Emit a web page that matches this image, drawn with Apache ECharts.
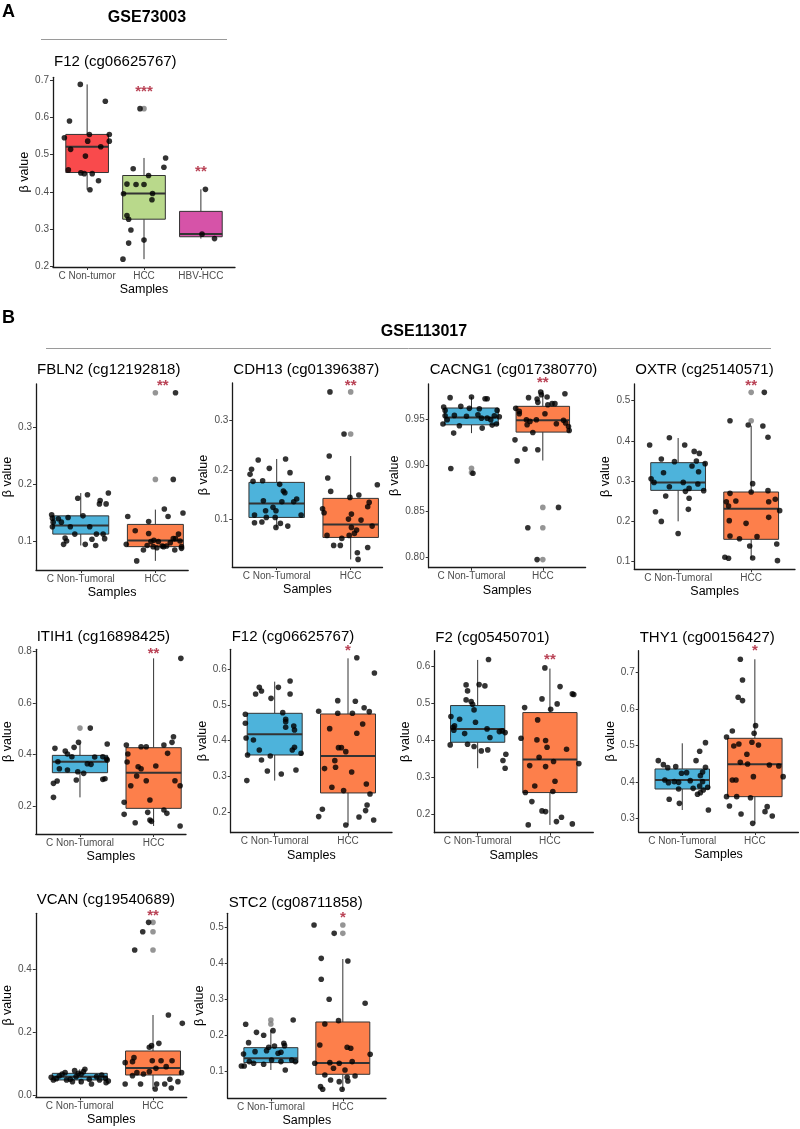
<!DOCTYPE html>
<html><head><meta charset="utf-8">
<script src="https://cdn.jsdelivr.net/npm/echarts@6/dist/echarts.min.js"></script>
<style>html,body{margin:0;padding:0;background:#fff}#c{width:800px;height:1129px}</style>
</head><body><div id="c"></div><script>
// ---------------- DATA ----------------
const CATS_B = ['C Non-Tumoral', 'HCC'];

// Panel A : GSE73003
const A_title = 'F12 (cg06625767)';
const A_cats = ['C Non-tumor', 'HCC', 'HBV-HCC'];
const A_ticks = ['0.2','0.3','0.4','0.5','0.6','0.7'];
const A_ctrl = [0.688,0.643,0.590,0.545,0.554,0.554,0.536,0.536,0.521,0.514,0.496,0.459,0.451,0.449,0.449,0.430,0.406];
const A_ctrl_jit = [-0.12,0.32,-0.31,-0.40,0.04,0.39,0.01,0.39,0.24,-0.29,-0.03,-0.33,-0.11,-0.05,0.09,0.20,0.05];
const A_hcc = [0.623,0.491,0.466,0.462,0.444,0.421,0.420,0.420,0.395,0.396,0.379,0.337,0.327,0.298,0.271,0.263,0.220];
const A_hcc_jit = [-0.07,0.38,0.35,-0.19,0.08,-0.30,-0.14,0.00,-0.36,0.15,0.14,-0.30,-0.27,-0.23,0.00,-0.27,-0.37];
const A_hbv = [0.407,0.287,0.275];
const A_hbv_jit = [0.08,0.02,0.24];
const A_box = [[0.406,0.452,0.521,0.554,0.688],[0.220,0.327,0.396,0.444,0.491],[0.275,0.280,0.2875,0.348,0.407]];
const A_out = [[],[0.623],[]];
const A_sig = [['***',2,0.675],['**',3,0.463]];

// FBLN2
const FBLN2_title = 'FBLN2 (cg12192818)';
const FBLN2_ticks = ['0.1','0.2','0.3'];
const FBLN2_ctrl = [0.146,0.140,0.139,0.133,0.125,0.133,0.141,0.125,0.175,0.181,0.165,0.171,0.184,0.165,0.144,0.125,0.112,0.105,0.100,0.094,0.094,0.103,0.112,0.112,0.104,0.092];
const FBLN2_ctrl_jit = [-0.39,-0.38,-0.30,-0.37,-0.38,-0.26,-0.17,-0.14,-0.04,0.09,0.25,0.26,0.37,0.34,0.03,0.12,-0.08,-0.21,-0.19,-0.23,0.06,0.15,0.21,0.30,0.32,0.20];
const FBLN2_hcc = [0.360,0.208,0.149,0.156,0.143,0.143,0.134,0.118,0.113,0.094,0.065,0.084,0.099,0.101,0.099,0.090,0.090,0.088,0.091,0.091,0.097,0.104,0.104,0.112,0.100,0.090,0.084,0.087,0.092];
const FBLN2_hcc_jit = [0.27,0.24,0.37,0.12,0.17,-0.37,-0.09,-0.27,-0.09,-0.39,-0.25,-0.16,-0.06,-0.02,0.04,0.11,-0.03,0.02,0.09,0.15,0.20,0.24,0.27,0.31,0.33,0.35,0.26,0.35,-0.11];
const FBLN2_box = [[0.092,0.112,0.127,0.144,0.184],[0.065,0.090,0.1006,0.129,0.155]];
const FBLN2_out = [[],[0.360,0.208]];
const FBLN2_sig = [['**',2.1,0.378]];

// CDH13
const CDH13_title = 'CDH13 (cg01396387)';
const CDH13_ticks = ['0.1','0.2','0.3'];
const CDH13_ctrl = [0.2205,0.2017,0.1916,0.2037,0.2226,0.195,0.1775,0.1788,0.1714,0.158,0.1545,0.1384,0.1364,0.1418,0.125,0.1364,0.1182,0.1182,0.1094,0.1047,0.1047,0.1094,0.094,0.0953,0.0926,0.0845,0.0872];
const CDH13_ctrl_jit = [-0.25,-0.34,-0.36,-0.10,0.12,0.18,-0.32,-0.19,0.04,0.09,0.11,-0.18,0.23,0.27,-0.05,0.07,-0.15,-0.01,-0.30,-0.14,-0.02,0.33,-0.30,-0.20,0.05,-0.01,0.15];
const CDH13_hcc = [0.358,0.273,0.2286,0.1842,0.1572,0.1707,0.1222,0.1141,0.0684,0.0482,0.0482,0.0623,0.1114,0.1451,0.1498,0.135,0.1263,0.0872,0.0441,0.0333,0.0199,0.0724,0.0684,0.1013,0.0993,0.0791,0.0845];
const CDH13_hcc_jit = [-0.28,-0.09,-0.29,-0.31,-0.27,0.36,-0.38,-0.36,-0.32,-0.23,-0.14,-0.12,0.01,-0.01,0.11,0.25,0.23,0.29,0.23,0.09,0.10,0.05,-0.02,-0.03,0.14,0.08,0.01];
const CDH13_box = [[0.0845,0.1047,0.133,0.1754,0.2226],[0.0199,0.0643,0.0906,0.1431,0.2286]];
const CDH13_out = [[],[0.358,0.273]];
const CDH13_sig = [['**',2,0.3768]];

// CACNG1
const CACNG1_title = 'CACNG1 (cg017380770)';
const CACNG1_ticks = ['0.80','0.85','0.90','0.95'];
const CACNG1_ctrl = [0.9732,0.9739,0.9721,0.9721,0.9638,0.9630,0.9594,0.9616,0.9612,0.9594,0.9536,0.9493,0.9540,0.9530,0.9547,0.9510,0.9510,0.9493,0.9536,0.9525,0.9446,0.9428,0.9402,0.9435,0.9446,0.9348,0.8964,0.8913];
const CACNG1_ctrl_jit = [-0.30,0.00,0.19,0.22,-0.15,-0.39,-0.37,-0.03,0.11,0.36,-0.37,-0.34,-0.24,-0.07,0.09,0.14,0.22,0.27,0.32,0.39,-0.40,-0.17,0.15,0.29,0.35,-0.25,-0.29,0.02];
const CACNG1_hcc = [0.9793,0.9764,0.9732,0.9775,0.9739,0.9717,0.9681,0.9667,0.9667,0.9656,0.9616,0.9583,0.9558,0.9558,0.9493,0.9475,0.9493,0.9438,0.9449,0.9486,0.9457,0.9420,0.9377,0.9355,0.9275,0.9174,0.9167,0.9047,0.8543,0.8322,0.7978];
const CACNG1_hcc_jit = [-0.03,-0.02,-0.20,0.31,0.06,-0.08,-0.07,0.13,0.17,0.07,-0.38,-0.33,-0.33,0.03,-0.23,-0.18,-0.09,-0.22,0.19,0.29,0.32,0.36,0.37,-0.14,-0.39,-0.25,-0.07,-0.36,0.22,-0.21,-0.08];
const CACNG1_box = [[0.9348,0.9438,0.9518,0.962,0.9739],[0.9051,0.9359,0.9486,0.9638,0.9808]];
const CACNG1_out = [[0.8967,0.892],[0.8543,0.8322,0.7978]];
const CACNG1_sig = [['**',2,0.992]];

// OXTR
const OXTR_title = 'OXTR (cg25140571)';
const OXTR_ticks = ['0.1','0.2','0.3','0.4','0.5'];
const OXTR_ctrl = [0.408,0.390,0.390,0.374,0.369,0.355,0.3485,0.350,0.3435,0.3377,0.3236,0.321,0.3062,0.297,0.297,0.293,0.2863,0.282,0.2764,0.2747,0.2574,0.2631,0.230,0.2242,0.200,0.170];
const OXTR_ctrl_jit = [-0.12,-0.39,0.09,0.22,0.29,-0.23,-0.05,0.25,0.37,0.19,0.28,-0.20,-0.37,-0.33,0.07,0.27,-0.12,0.15,0.35,0.10,0.15,-0.17,0.14,-0.31,-0.23,0.00];
const OXTR_hcc = [0.5207,0.4503,0.4395,0.437,0.409,0.2938,0.2731,0.2698,0.2764,0.249,0.2507,0.2383,0.249,0.2549,0.2267,0.2101,0.2019,0.1952,0.1638,0.1571,0.1621,0.1389,0.1439,0.1108,0.1083,0.1091,0.1025];
const OXTR_hcc_jit = [0.18,-0.29,-0.04,0.16,0.23,0.02,0.00,-0.29,0.23,-0.34,-0.21,-0.31,0.24,0.33,0.39,0.24,-0.30,-0.07,-0.29,-0.16,0.08,-0.02,0.35,-0.36,-0.31,0.02,0.36];
const OXTR_box = [[0.2002,0.2772,0.297,0.346,0.4072],[0.1083,0.1555,0.2317,0.2731,0.4379]];
const OXTR_out = [[],[0.5207,0.4503]];
const OXTR_sig = [['**',2,0.5447]];

// ITIH1
const ITIH1_title = 'ITIH1 (cg16898425)';
const ITIH1_ticks = ['0.2','0.4','0.6','0.8'];
const ITIH1_ctrl = [0.503,0.4477,0.4413,0.4284,0.4245,0.4142,0.4026,0.3923,0.391,0.3923,0.3845,0.3729,0.3652,0.3626,0.3794,0.3458,0.3406,0.3342,0.3277,0.3045,0.307,0.3019,0.298,0.289,0.2348];
const ITIH1_ctrl_jit = [0.14,-0.02,0.37,-0.08,-0.34,-0.20,-0.17,-0.11,0.20,0.31,0.36,-0.30,0.10,0.15,0.37,-0.28,-0.17,-0.03,0.05,0.31,0.34,-0.05,-0.31,-0.36,-0.36];
const ITIH1_hcc = [0.773,0.4374,0.4026,0.431,0.431,0.4374,0.4477,0.4697,0.4052,0.3716,0.3535,0.3458,0.3561,0.3174,0.2994,0.28,0.2994,0.28,0.2245,0.2155,0.1768,0.169,0.1368,0.1471,0.142,0.1858,0.1729,0.1239];
const ITIH1_hcc_jit = [0.37,-0.37,-0.35,-0.17,-0.10,0.14,0.25,0.27,0.19,-0.36,-0.21,-0.17,0.03,-0.23,-0.10,-0.31,0.29,0.36,-0.05,-0.40,-0.08,-0.40,-0.25,-0.05,-0.03,0.14,0.18,0.36];
const ITIH1_box = [[0.2348,0.3303,0.3729,0.3974,0.4439],[0.124,0.1923,0.3303,0.4271,0.773]];
const ITIH1_out = [[0.503],[]];
const ITIH1_sig = [['**',2,0.8026]];

// F12 (GSE113017)
const F12_title = 'F12 (cg06625767)';
const F12_ticks = ['0.2','0.3','0.4','0.5','0.6'];
const F12_ctrl = [0.5665,0.5488,0.5488,0.5386,0.5302,0.5302,0.5181,0.4735,0.4781,0.4595,0.453,0.4409,0.4484,0.4372,0.4298,0.4074,0.4019,0.3814,0.374,0.374,0.3647,0.36,0.3572,0.346,0.3181,0.3153,0.307,0.2884];
const F12_ctrl_jit = [0.21,-0.21,0.05,-0.18,-0.26,0.21,-0.05,-0.40,0.11,0.15,0.15,0.26,-0.40,0.15,0.27,-0.39,-0.29,0.27,0.24,-0.21,0.36,-0.37,-0.06,-0.18,0.29,-0.10,0.09,-0.38];
const F12_hcc = [0.6316,0.5888,0.4819,0.5116,0.5098,0.492,0.4809,0.4763,0.4763,0.4335,0.4465,0.4205,0.3805,0.3805,0.3693,0.3442,0.3219,0.3256,0.3126,0.2791,0.2512,0.2698,0.2605,0.2084,0.1879,0.2205,0.2047,0.187,0.1786,0.1647];
const F12_hcc_jit = [0.12,0.36,-0.40,-0.14,0.10,0.22,0.29,-0.14,0.06,-0.25,0.20,0.12,-0.13,-0.09,-0.03,-0.18,-0.32,-0.17,0.05,0.25,0.30,-0.22,-0.06,-0.35,-0.40,0.26,0.24,0.15,0.35,-0.03];
const F12_box = [[0.2884,0.36,0.4177,0.4763,0.5647],[0.1637,0.254,0.3572,0.4744,0.6298]];
const F12_out = [[],[]];
const F12_sig = [['*',2,0.6577]];

// F2
const F2_title = 'F2 (cg05450701)';
const F2_ticks = ['0.2','0.3','0.4','0.5','0.6'];
const F2_ctrl = [0.619,0.5503,0.5512,0.5476,0.5341,0.5097,0.5052,0.498,0.4826,0.4646,0.4573,0.4393,0.4357,0.4492,0.4275,0.4185,0.4312,0.4077,0.4239,0.4257,0.4212,0.3878,0.3896,0.3833,0.3716,0.3743,0.3625,0.3454,0.3246];
const F2_ctrl_jit = [0.15,-0.16,0.02,0.10,-0.14,-0.16,-0.09,-0.07,-0.05,-0.37,-0.25,-0.32,-0.34,-0.03,-0.33,-0.18,0.13,0.17,0.30,0.34,0.38,-0.38,-0.14,-0.05,0.05,0.14,0.39,0.35,0.38];
const F2_hcc = [0.5964,0.5458,0.526,0.5242,0.4989,0.5124,0.4844,0.4889,0.4555,0.4059,0.4014,0.3996,0.3815,0.3761,0.3544,0.3427,0.3318,0.3291,0.3372,0.2894,0.2767,0.2587,0.2614,0.2343,0.209,0.2072,0.1919,0.1801,0.1711,0.1738];
const F2_hcc_jit = [-0.07,0.14,0.31,0.33,0.10,-0.11,0.01,-0.35,-0.17,-0.40,-0.18,-0.06,-0.04,0.23,-0.15,0.05,-0.28,-0.06,0.40,0.07,-0.21,-0.34,0.04,-0.25,-0.11,-0.06,0.16,0.09,-0.30,0.31];
const F2_box = [[0.3246,0.395,0.4312,0.4944,0.618],[0.1711,0.2587,0.3481,0.4754,0.5946]];
const F2_out = [[],[]];
const F2_sig = [['**',2,0.627]];

// THY1
const THY1_title = 'THY1 (cg00156427)';
const THY1_ticks = ['0.3','0.4','0.5','0.6','0.7'];
const THY1_ctrl = [0.5082,0.4589,0.4845,0.4589,0.448,0.4425,0.4397,0.4406,0.4279,0.4242,0.426,0.4178,0.4059,0.3986,0.4014,0.3995,0.4041,0.4014,0.3895,0.3831,0.3813,0.3858,0.3785,0.3712,0.3667,0.353,0.342,0.3237];
const THY1_ctrl_jit = [0.32,-0.33,0.24,0.19,-0.26,-0.09,-0.20,0.32,0.28,-0.01,0.06,0.25,-0.24,-0.19,-0.11,-0.05,0.11,0.28,0.24,0.15,-0.05,0.35,0.29,0.25,0.21,-0.18,-0.04,0.36];
const THY1_hcc = [0.7365,0.6799,0.6324,0.6233,0.5548,0.5338,0.5402,0.5237,0.5046,0.4991,0.5091,0.5018,0.4763,0.4543,0.4498,0.447,0.4443,0.4151,0.4151,0.4059,0.4059,0.3575,0.3603,0.3603,0.3347,0.3329,0.3192,0.3073,0.3128,0.2872];
const THY1_hcc_jit = [-0.20,-0.17,-0.23,-0.17,0.01,-0.01,-0.31,-0.39,-0.22,-0.29,-0.04,0.05,-0.11,-0.20,-0.10,0.20,0.33,-0.02,0.39,-0.31,-0.26,-0.06,-0.39,-0.25,-0.35,0.17,0.14,0.24,-0.19,-0.03];
const THY1_box = [[0.3237,0.3813,0.4059,0.4361,0.5064],[0.2872,0.3603,0.4489,0.5201,0.7365]];
const THY1_out = [[],[]];
const THY1_sig = [['*',2,0.769]];

// VCAN
const VCAN_title = 'VCAN (cg19540689)';
const VCAN_ticks = ['0.0','0.2','0.4'];
const VCAN_ctrl = [0.0571,0.0487,0.0529,0.0677,0.072,0.0508,0.0434,0.0593,0.0698,0.0677,0.0751,0.0825,0.0783,0.0508,0.036,0.0593,0.0646,0.054,0.0455,0.0402,0.0487,0.0434,0.0614,0.0487];
const VCAN_ctrl_jit = [-0.39,-0.36,-0.32,-0.24,-0.20,-0.13,-0.10,-0.05,-0.02,0.02,0.05,0.07,-0.07,0.13,0.16,0.23,0.30,0.35,0.39,0.36,-0.18,0.02,-0.28,0.27];
const VCAN_hcc = [0.5492,0.5196,0.4614,0.255,0.2286,0.165,0.1577,0.1524,0.1037,0.1196,0.1069,0.11,0.11,0.11,0.091,0.072,0.0677,0.0751,0.0857,0.0624,0.036,0.036,0.036,0.0508,0.072,0.0434,0.036,0.0233,0.0201];
const VCAN_hcc_jit = [-0.06,-0.14,-0.25,0.21,0.40,0.08,-0.02,-0.05,-0.38,-0.26,-0.28,-0.01,0.11,0.26,0.18,-0.22,-0.13,-0.05,0.04,-0.28,-0.17,0.05,-0.38,0.23,0.39,0.34,0.16,0.25,0.03];
const VCAN_box = [[0.036,0.0487,0.0593,0.0698,0.0825],[0.0201,0.0646,0.0868,0.1407,0.255]];
const VCAN_out = [[],[0.5492,0.5196,0.4614]];
const VCAN_sig = [['**',2,0.58]];

// STC2
const STC2_title = 'STC2 (cg08711858)';
const STC2_ticks = ['0.1','0.2','0.3','0.4','0.5'];
const STC2_ctrl = [0.2306,0.2426,0.2083,0.2,0.213,0.1796,0.1778,0.1667,0.1704,0.1574,0.1546,0.1713,0.1528,0.15,0.1481,0.1269,0.1222,0.1194,0.1315,0.1269,0.1315,0.1269,0.1148,0.1148,0.1037];
const STC2_ctrl_jit = [-0.35,0.31,-0.20,-0.10,0.03,-0.31,0.18,-0.03,0.05,-0.06,-0.22,0.19,0.14,0.10,-0.38,-0.30,-0.24,-0.10,0.01,0.14,0.29,0.34,-0.41,-0.37,0.20];
const STC2_hcc = [0.5065,0.4833,0.4139,0.4065,0.3556,0.3,0.2889,0.2315,0.2407,0.1731,0.1667,0.1639,0.1472,0.1241,0.1222,0.1269,0.1222,0.1083,0.1037,0.087,0.0898,0.0833,0.0759,0.05,0.0574,0.0713,0.0731,0.05];
const STC2_hcc_jit = [-0.40,-0.12,-0.30,0.07,-0.30,-0.19,0.31,-0.25,-0.06,-0.32,0.06,0.11,0.38,-0.18,-0.05,0.13,-0.39,-0.13,0.03,0.17,-0.25,0.06,-0.17,-0.28,-0.31,-0.05,0.07,-0.01];
const STC2_box = [[0.1037,0.1241,0.1361,0.1657,0.2148],[0.0481,0.0917,0.1231,0.237,0.412]];
const STC2_out = [[0.2426,0.2315],[0.5065,0.4833]];
const STC2_sig = [['*',2,0.534]];

// ---------------- LAYOUT / STYLE ----------------
const FONT = '"Liberation Sans", Arial, Helvetica, sans-serif';
const COL_A = ['#F94A4C', '#B9D98B', '#D653A8'];
const COL_B = ['#4DB3DB', '#FD7F4B'];
const PT = 5.6;

const panels = [
  {title:A_title, cats:A_cats, ticks:A_ticks, groups:[A_ctrl,A_hcc,A_hbv], jits:[A_ctrl_jit,A_hcc_jit,A_hbv_jit], box:A_box, out:A_out, sig:A_sig, colors:COL_A,
   L:{left:53, right:235, top:77.3, bottom:267, ymin:0.199, ymax:0.707, xmax:3.6, titleY:61.7}},
  {title:FBLN2_title, cats:CATS_B, ticks:FBLN2_ticks, groups:[FBLN2_ctrl,FBLN2_hcc], jits:[FBLN2_ctrl_jit,FBLN2_hcc_jit], box:FBLN2_box, out:FBLN2_out, sig:FBLN2_sig, colors:COL_B,
   L:{left:36, right:188.2, top:384, bottom:570, ymin:0.049, ymax:0.3754, xmax:2.44, titleY:370}},
  {title:CDH13_title, cats:CATS_B, ticks:CDH13_ticks, groups:[CDH13_ctrl,CDH13_hcc], jits:[CDH13_ctrl_jit,CDH13_hcc_jit], box:CDH13_box, out:CDH13_out, sig:CDH13_sig, colors:COL_B,
   L:{left:232.3, right:382.5, top:383, bottom:567, ymin:0.0046, ymax:0.376, xmax:2.43, titleY:369.5}},
  {title:CACNG1_title, cats:CATS_B, ticks:CACNG1_ticks, groups:[CACNG1_ctrl,CACNG1_hcc], jits:[CACNG1_ctrl_jit,CACNG1_hcc_jit], box:CACNG1_box, out:CACNG1_out, sig:CACNG1_sig, colors:COL_B,
   L:{left:428.7, right:585.6, top:384, bottom:567.7, ymin:0.789, ymax:0.988, xmax:2.6, titleY:370}},
  {title:OXTR_title, cats:CATS_B, ticks:OXTR_ticks, groups:[OXTR_ctrl,OXTR_hcc], jits:[OXTR_ctrl_jit,OXTR_hcc_jit], box:OXTR_box, out:OXTR_out, sig:OXTR_sig, colors:COL_B,
   L:{left:634.3, right:795, top:384, bottom:569.3, ymin:0.081, ymax:0.5415, xmax:2.6, titleY:370}},
  {title:ITIH1_title, cats:CATS_B, ticks:ITIH1_ticks, groups:[ITIH1_ctrl,ITIH1_hcc], jits:[ITIH1_ctrl_jit,ITIH1_hcc_jit], box:ITIH1_box, out:ITIH1_out, sig:ITIH1_sig, colors:COL_B,
   L:{left:35.7, right:186, top:649.3, bottom:834, ymin:0.093, ymax:0.808, xmax:2.44, titleY:637.3}},
  {title:F12_title, cats:CATS_B, ticks:F12_ticks, groups:[F12_ctrl,F12_hcc], jits:[F12_ctrl_jit,F12_hcc_jit], box:F12_box, out:F12_out, sig:F12_sig, colors:COL_B,
   L:{left:230.7, right:392, top:649.3, bottom:832.7, ymin:0.143, ymax:0.655, xmax:2.6, titleY:637.3}},
  {title:F2_title, cats:CATS_B, ticks:F2_ticks, groups:[F2_ctrl,F2_hcc], jits:[F2_ctrl_jit,F2_hcc_jit], box:F2_box, out:F2_out, sig:F2_sig, colors:COL_B,
   L:{left:434.3, right:593.3, top:650.7, bottom:832.7, ymin:0.150, ymax:0.643, xmax:2.6, titleY:638.3}},
  {title:THY1_title, cats:CATS_B, ticks:THY1_ticks, groups:[THY1_ctrl,THY1_hcc], jits:[THY1_ctrl_jit,THY1_hcc_jit], box:THY1_box, out:THY1_out, sig:THY1_sig, colors:COL_B,
   L:{left:638.7, right:798.4, top:650.7, bottom:832, ymin:0.2635, ymax:0.760, xmax:2.6, titleY:638.3}},
  {title:VCAN_title, cats:CATS_B, ticks:VCAN_ticks, groups:[VCAN_ctrl,VCAN_hcc], jits:[VCAN_ctrl_jit,VCAN_hcc_jit], box:VCAN_box, out:VCAN_out, sig:VCAN_sig, colors:COL_B,
   L:{left:35.7, right:186.7, top:913.3, bottom:1097.3, ymin:-0.0063, ymax:0.578, xmax:2.46, titleY:900}},
  {title:STC2_title, cats:CATS_B, ticks:STC2_ticks, groups:[STC2_ctrl,STC2_hcc], jits:[STC2_ctrl_jit,STC2_hcc_jit], box:STC2_box, out:STC2_out, sig:STC2_sig, colors:COL_B,
   L:{left:227.7, right:386, top:913.3, bottom:1098.3, ymin:0.025, ymax:0.539, xmax:2.6, titleY:902.7}}
];

const option = {
  animation: false,
  backgroundColor: '#ffffff',
  textStyle: {fontFamily: FONT},
  grid: [], xAxis: [], yAxis: [], series: [],
  graphic: [
    {type:'text', x:2, y:3, style:{text:'A', font:'bold 18px ' + FONT, fill:'#000'}},
    {type:'text', x:147, y:18, style:{text:'GSE73003', font:'bold 16px ' + FONT, fill:'#000', align:'center', verticalAlign:'middle'}},
    {type:'line', shape:{x1:41, y1:39.5, x2:227, y2:39.5}, style:{stroke:'#9a9a9a', lineWidth:1}},
    {type:'text', x:2, y:309, style:{text:'B', font:'bold 18px ' + FONT, fill:'#000'}},
    {type:'text', x:424, y:332, style:{text:'GSE113017', font:'bold 16px ' + FONT, fill:'#000', align:'center', verticalAlign:'middle'}},
    {type:'line', shape:{x1:46, y1:348.5, x2:771, y2:348.5}, style:{stroke:'#9a9a9a', lineWidth:1}}
  ]
};

const AXIS_LINE = {show:true, onZero:false, lineStyle:{color:'#1a1a1a', width:1.3}};
const AXIS_TICK_STYLE = {color:'#333', width:1};

panels.forEach((p, i) => {
  const L = p.L;
  option.grid.push({left:L.left, top:L.top, width:L.right - L.left, height:L.bottom - L.top});
  const catVals = p.cats.map((c, k) => k + 1);
  option.xAxis.push({
    type:'value', gridIndex:i, min:0.4, max:L.xmax, splitLine:{show:false},
    axisLine:AXIS_LINE,
    axisTick:{show:true, customValues:catVals, length:3, lineStyle:AXIS_TICK_STYLE},
    axisLabel:{customValues:catVals, formatter:(v) => p.cats[Math.round(v) - 1] || '', color:'#4d4d4d', fontSize:10, fontFamily:FONT, margin:4},
    name:'Samples', nameLocation:'middle', nameGap:16, nameTextStyle:{fontSize:12.5, color:'#000', fontFamily:FONT}
  });
  const tv = p.ticks.map(Number);
  option.yAxis.push({
    type:'value', gridIndex:i, min:L.ymin, max:L.ymax, splitLine:{show:false},
    axisLine:AXIS_LINE,
    axisTick:{show:true, customValues:tv, length:3, lineStyle:AXIS_TICK_STYLE},
    axisLabel:{customValues:tv, formatter:(v) => { const k = tv.findIndex(t => Math.abs(t - v) < 1e-9); return k >= 0 ? p.ticks[k] : ''; }, color:'#4d4d4d', fontSize:10, fontFamily:FONT, margin:4},
    name:'\u03B2 value', nameLocation:'middle', nameGap:21, nameTextStyle:{fontSize:12.5, color:'#000', fontFamily:FONT}
  });
  // boxes
  option.series.push({
    type:'custom', xAxisIndex:i, yAxisIndex:i, silent:true, z:2,
    data:p.box.map((b, k) => [k + 1, b[0], b[1], b[2], b[3], b[4], k]),
    encode:{x:0, y:[1,2,3,4,5]},
    renderItem:(params, api) => {
      const x = api.value(0), mn = api.value(1), q1 = api.value(2), md = api.value(3), q3 = api.value(4), mx = api.value(5);
      const col = p.colors[api.value(6)];
      const hw = 0.375;
      const tl = api.coord([x - hw, q3]), br = api.coord([x + hw, q1]);
      const pMax = api.coord([x, mx]), pQ3 = api.coord([x, q3]), pQ1 = api.coord([x, q1]), pMin = api.coord([x, mn]);
      const mL = api.coord([x - hw, md]), mR = api.coord([x + hw, md]);
      return {type:'group', children:[
        {type:'line', shape:{x1:pMax[0], y1:pMax[1], x2:pQ3[0], y2:pQ3[1]}, style:{stroke:'#333', lineWidth:1}},
        {type:'line', shape:{x1:pQ1[0], y1:pQ1[1], x2:pMin[0], y2:pMin[1]}, style:{stroke:'#333', lineWidth:1}},
        {type:'rect', shape:{x:tl[0], y:tl[1], width:br[0] - tl[0], height:br[1] - tl[1]}, style:{fill:col, stroke:'#333', lineWidth:1}},
        {type:'line', shape:{x1:mL[0], y1:mL[1], x2:mR[0], y2:mR[1]}, style:{stroke:'#333', lineWidth:2}}
      ]};
    }
  });
  // box outliers (grey)
  const outData = [];
  p.out.forEach((arr, k) => arr.forEach(v => outData.push([k + 1, v])));
  option.series.push({type:'scatter', xAxisIndex:i, yAxisIndex:i, silent:true, z:3, data:outData, symbolSize:PT, itemStyle:{color:'#7a7a7a'}});
  // jittered points
  const pts = [];
  p.groups.forEach((g, k) => g.forEach((v, j) => pts.push([k + 1 + (p.jits[k][j] || 0), v])));
  option.series.push({type:'scatter', xAxisIndex:i, yAxisIndex:i, silent:true, z:4, data:pts, symbolSize:PT, itemStyle:{color:'#000'}});
  // significance marks
  option.series.push({
    type:'scatter', xAxisIndex:i, yAxisIndex:i, silent:true, z:5, clip:false,
    data:p.sig.map(s => ({value:[s[1], s[2]], label:{formatter:s[0]}})),
    symbolSize:2, itemStyle:{color:'rgba(0,0,0,0)'},
    label:{show:true, position:'inside', color:'#A8132A', fontSize:15, fontWeight:'bold', fontFamily:FONT, offset:[0,3]}
  });
  // panel title
  option.graphic.push({type:'text', x:L.left + 1, y:L.titleY, style:{text:p.title, font:'15px ' + FONT, fill:'#000', verticalAlign:'middle'}});
});

const chart = echarts.init(document.getElementById('c'), null, {renderer:'canvas'});
chart.setOption(option);
</script></body></html>
